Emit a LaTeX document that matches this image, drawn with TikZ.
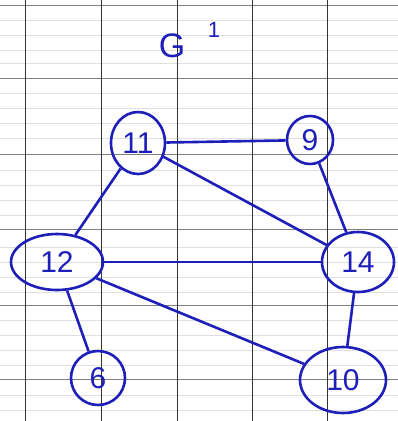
\documentclass[tikz,border=0pt]{standalone}
\usepackage{fontspec}
\setmainfont{Liberation Sans}
\usetikzlibrary{shapes.geometric}

\tikzset{
  ink/.style={draw=inkblue,line width=2.6pt},
  vtx/.style={ellipse,ink,text=inkblue,inner sep=0pt,font=\fontsize{30}{30}\selectfont},
  edge/.style={ink}
}
\definecolor{inkblue}{RGB}{30,30,185}

\begin{document}
\begin{tikzpicture}[x=1pt,y=-1pt]
\useasboundingbox (0,0) rectangle (398,421);
\fill[white] (0,0) rectangle (398,421);
% grid paper
\foreach \y in {20,35,50,63,93,108,123,138,170,185,200,215,247,262,277,292,320,335,350,365,395,410}
  \draw[black!12,line width=.4pt] (0,\y) -- (398,\y);
\foreach \y in {5,78,154,229,305,379}
  \draw[black!50,line width=.7pt] (0,\y) -- (398,\y);
\foreach \x in {25,101,177,252,327}
  \draw[black!80,line width=1pt] (\x,0) -- (\x,421);
% title
\node[text=inkblue,font=\fontsize{34}{34}\selectfont] (title) at (172,46) {G};
\node[text=inkblue,font=\fontsize{22}{22}\selectfont] (sup) at (214,30) {1};
% vertices
\node[vtx,minimum width=54,minimum height=62] (v11) at (138,143) {11};
\node[vtx,minimum width=46,minimum height=48] (v9) at (310,140) {9};
\node[vtx,minimum width=92,minimum height=56] (v12) at (57,262) {12};
\node[vtx,minimum width=72,minimum height=60] (v14) at (358,262) {14};
\node[vtx,minimum width=54,minimum height=54] (v6) at (98,378) {6};
\node[vtx,minimum width=86,minimum height=66] (v10) at (343,380) {10};
% edges
\draw[edge] (v11) -- (v9);
\draw[edge] (v11) -- (v12);
\draw[edge] (v11) -- (v14);
\draw[edge] (v9) -- (v14);
\draw[edge] (v12) -- (v14);
\draw[edge] (v12) -- (v6);
\draw[edge] (v12) -- (v10);
\draw[edge] (v14) -- (v10);
\end{tikzpicture}
\end{document}
